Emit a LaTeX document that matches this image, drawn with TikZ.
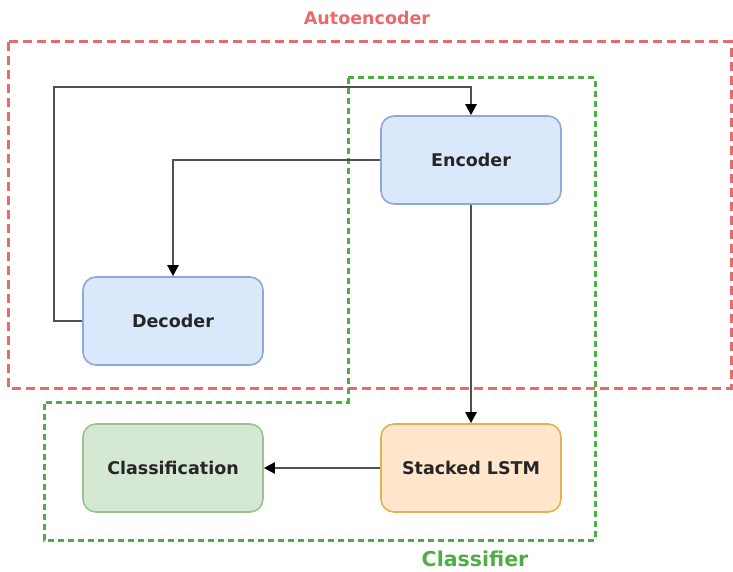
\documentclass[tikz,border=0pt]{standalone}
\usepackage{fontspec}
\setmainfont{DejaVu Sans}
\usetikzlibrary{arrows.meta}
\definecolor{bluefill}{HTML}{DAE8FC}
\definecolor{bluedraw}{HTML}{8EA9D6}
\definecolor{orangefill}{HTML}{FFE6CC}
\definecolor{orangedraw}{HTML}{E3B14E}
\definecolor{greenfill}{HTML}{D5E8D4}
\definecolor{greendraw}{HTML}{9CC48A}
\definecolor{reddash}{HTML}{E86A6A}
\definecolor{greendash}{HTML}{4EAE45}
\definecolor{linegray}{HTML}{505050}
\begin{document}
\begin{tikzpicture}[x=1pt,y=-1pt,
  box/.style={rectangle, rounded corners=13pt, minimum width=180pt, minimum height=88pt, line width=1.6pt, font=\fontsize{17.5}{19}\selectfont\bfseries, text=black!85},
  conn/.style={draw=linegray, line width=2.3pt, -{Triangle[length=11pt,width=11pt,color=black]}},
  reddashed/.style={draw=reddash, line width=3pt, dash pattern=on 9pt off 5pt},
  greendashed/.style={draw=greendash, line width=3pt, dash pattern=on 6pt off 4pt}]
\useasboundingbox (0,0) rectangle (733,572);
% group frames
\draw[reddashed] (8,42) rectangle (731,388);
\draw[greendashed] (348,78) -- (595,78) -- (595,540) -- (44,540) -- (44,402) -- (348,402) -- cycle;
\node[text=reddash, font=\fontsize{17.5}{19}\selectfont\bfseries] (autolabel) at (367,18) {Autoencoder};
\node[text=greendash, font=\fontsize{20.5}{22}\selectfont\bfseries] (classlabel) at (475,559) {Classifier};
% nodes
\node[box, fill=bluefill, draw=bluedraw] (enc) at (471,160) {Encoder};
\node[box, fill=bluefill, draw=bluedraw] (dec) at (173,321) {Decoder};
\node[box, fill=orangefill, draw=orangedraw] (lstm) at (471,468) {Stacked LSTM};
\node[box, fill=greenfill, draw=greendraw] (cls) at (173,468) {Classification};
% connectors
\coordinate (c1) at (54,321);
\coordinate (c2) at (54,87);
\draw[conn] (dec.west) -- (c1) -- (c2) -| (enc.north);
\draw[conn] (enc.west) -| (dec.north);
\draw[conn] (enc.south) -- (lstm.north);
\draw[conn] (lstm.west) -- (cls.east);
\end{tikzpicture}
\end{document}
